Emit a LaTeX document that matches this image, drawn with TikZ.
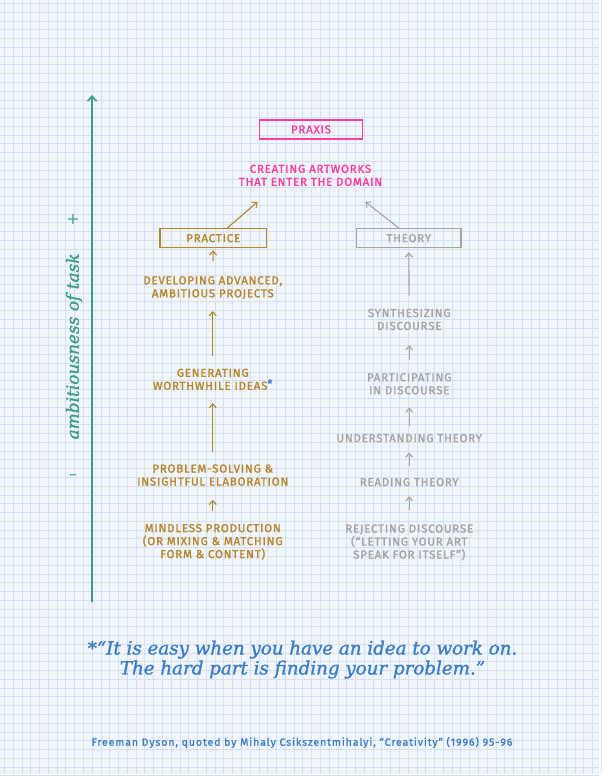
\documentclass[tikz,border=0pt]{standalone}
\usepackage{fontspec}
\setmainfont{DejaVu Serif}
\newfontfamily\handfont[LetterSpace=7,FakeBold=1.6]{Fira Sans}
\newfontfamily\citefont[LetterSpace=9,FakeBold=1.2]{Fira Sans}
\newfontfamily\quotefont[FakeBold=1.4]{DejaVu Serif}
\newfontfamily\axisfont[FakeBold=1.2]{DejaVu Serif}
\usetikzlibrary{arrows.meta}
\definecolor{paper}{HTML}{F1F5F9}
\definecolor{gridc}{HTML}{D3E2F3}
\definecolor{praxisc}{HTML}{FF3D9F}
\definecolor{practc}{HTML}{B8862C}
\definecolor{theoc}{HTML}{A5A5A5}
\definecolor{tealc}{HTML}{3A9E86}
\definecolor{bluec}{HTML}{3C7EC4}
\tikzset{
  hand/.style={font=\handfont\fontsize{11.5}{13}\selectfont, align=center, inner sep=0pt},
  practtext/.style={hand, text=practc},
  theotext/.style={hand, text=theoc},
  boxstyle/.style={hand, draw, line width=1.3pt, minimum height=19pt},
  tip/.style={-{Straight Barb[length=4pt,width=7pt]}, line width=1.1pt},
  parr/.style={tip, draw=practc},
  tarr/.style={tip, draw=theoc},
}
\begin{document}
\begin{tikzpicture}[x=1pt,y=-1pt]
\fill[paper] (0,0) rectangle (600,776);
\foreach \i in {0,...,68} {
  \draw[gridc, line width=0.6pt] ({4+\i*8.8},0) -- ({4+\i*8.8},776);
}
\foreach \i in {0,...,88} {
  \draw[gridc, line width=0.6pt] (0,{3+\i*8.8}) -- (600,{3+\i*8.8});
}
\useasboundingbox (0,0) rectangle (600,776);

% axis
\coordinate (axbot) at (92,603);
\coordinate (axtop) at (92,95);
\draw[tealc, line width=1.6pt, -{Straight Barb[length=5pt,width=9pt]}] (axbot) -- (axtop);
\node[rotate=90, text=tealc, font=\axisfont\fontsize{17}{17}\selectfont\itshape] (axlabel) at (74,347) {ambitiousness of task};
\node[text=tealc, font=\fontsize{16}{16}\selectfont] (plus) at (73,220) {+};
\node[text=tealc, font=\fontsize{16}{16}\selectfont] (minus) at (73,478) {--};

% praxis
\node[boxstyle, draw=praxisc, text=praxisc, minimum width=103pt] (praxis) at (311.5,129.5) {PRAXIS};
\node[hand, text=praxisc] (creating) at (311,175.5) {CREATING ARTWORKS\\THAT ENTER THE DOMAIN};

% practice column
\node[boxstyle, draw=practc, text=practc, minimum width=107pt] (practice) at (213.5,238.5) {PRACTICE};
\node[practtext] (developing) at (213,288) {DEVELOPING ADVANCED,\\AMBITIOUS PROJECTS};
\node[practtext] (generating) at (213,380) {GENERATING\\WORTHWHILE IDEAS\textcolor{bluec}{\raisebox{2pt}{*}}};
\node[practtext] (problem) at (213,476) {PROBLEM-SOLVING \&\\INSIGHTFUL ELABORATION};
\node[practtext] (mindless) at (213,543) {MINDLESS PRODUCTION\\(OR MIXING \& MATCHING\\FORM \& CONTENT)};

% theory column
\node[boxstyle, draw=theoc, text=theoc, minimum width=105pt] (theory) at (409.5,238.5) {THEORY};
\node[theotext] (synth) at (410,320) {SYNTHESIZING\\DISCOURSE};
\node[theotext] (partic) at (410,384.5) {PARTICIPATING\\IN DISCOURSE};
\node[theotext] (underst) at (410,439) {UNDERSTANDING THEORY};
\node[theotext] (reading) at (410,483) {READING THEORY};
\node[theotext] (rejecting) at (410,543.5) {REJECTING DISCOURSE\\(“LETTING YOUR ART\\SPEAK FOR ITSELF”)};

% arrows to praxis
\coordinate (pend) at (258,202);
\coordinate (tend) at (366,202);
\draw[parr] ([xshift=14pt]practice.north) -- (pend);
\draw[tarr] ([xshift=-10pt]theory.north) -- (tend);

% practice arrows
\draw[parr, shorten <=15pt, shorten >=2pt] (developing) -- (practice);
\draw[parr, shorten <=13pt, shorten >=12pt] (generating) -- (developing);
\draw[parr, shorten <=12pt, shorten >=13pt] (problem) -- (generating);
\draw[parr, shorten <=13pt, shorten >=14pt] (mindless) -- (problem);

% theory arrows
\draw[tarr, shorten <=13pt, shorten >=4pt] (synth) -- (theory);
\draw[tarr, shorten <=13pt, shorten >=15pt] (partic) -- (synth);
\draw[tarr, shorten <=8pt, shorten >=13pt] (underst) -- (partic);
\draw[tarr, shorten <=12pt, shorten >=10pt] (reading) -- (underst);
\draw[tarr, shorten <=14pt, shorten >=10pt] (rejecting) -- (reading);

% quote
\node[text=bluec, align=center, font=\quotefont\fontsize{18.3}{20}\selectfont\itshape] (quote) at (303,661) {*“It is easy when you have an idea to work on.\\The hard part is finding your problem.”};
\node[text=bluec, font=\citefont\fontsize{10.5}{12}\selectfont] (cite) at (302.5,744) {Freeman Dyson, quoted by Mihaly Csikszentmihalyi, “Creativity” (1996) 95-96};
\end{tikzpicture}
\end{document}
